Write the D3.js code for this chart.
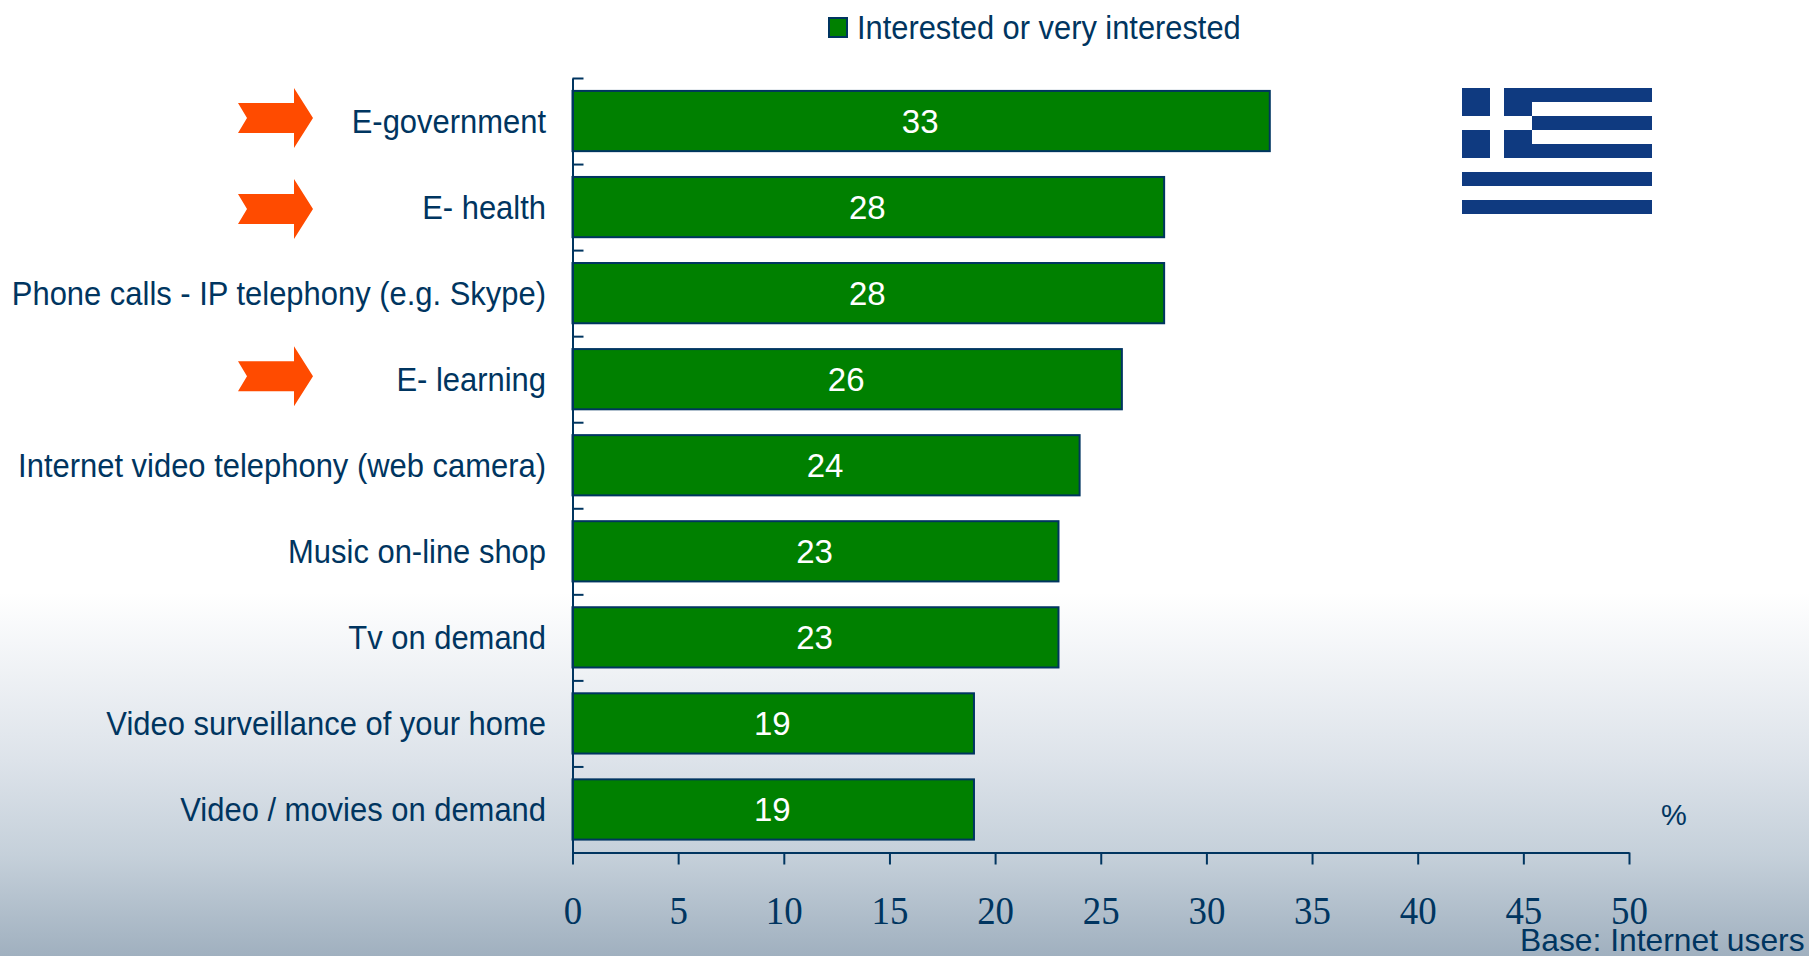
<!DOCTYPE html>
<html>
<head>
<meta charset="utf-8">
<style>
  html, body { margin: 0; padding: 0; background: #fff; overflow: hidden; }
  svg { display: block; }
  text { font-family: "Liberation Sans", Arial, sans-serif; fill: #003560; }
</style>
<script src="https://d3js.org/d3.v7.min.js"></script>
</head>
<body>
<svg id="chart"></svg>
<script>
const categories = [
  "E-government",
  "E- health",
  "Phone calls - IP telephony (e.g. Skype)",
  "E- learning",
  "Internet video telephony (web camera)",
  "Music on-line shop",
  "Tv on demand",
  "Video surveillance of your home",
  "Video / movies on demand"
];
const values = [33, 28, 28, 26, 24, 23, 23, 19, 19];
const highlighted = ["E-government", "E- health", "E- learning"];
const xTicks = [0, 5, 10, 15, 20, 25, 30, 35, 40, 45, 50];
const legendLabel = "Interested or very interested";
const unitLabel = "%";
const baseLabel = "Base: Internet users";

const navy = "#003560";
const green = "#008000";
const width = 1809, height = 956;
const plotLeft = 572.5, plotRight = 1629, plotTop = 78, plotBottom = 852.5;

const svg = d3.select("#chart").attr("width", width).attr("height", height);

// background fades to grey blue at the bottom
const grad = svg.append("defs").append("linearGradient")
  .attr("id", "bg").attr("x1", 0).attr("y1", 0).attr("x2", 0).attr("y2", 1);
grad.selectAll("stop")
  .data([[0, "#ffffff"], [0.62, "#ffffff"], [0.795, "#dde3ea"], [0.895, "#c5d0da"], [1, "#a0b0bf"]])
  .join("stop")
  .attr("offset", d => d[0])
  .attr("stop-color", d => d[1]);
svg.append("rect").attr("width", width).attr("height", height).attr("fill", "url(#bg)");

const x = d3.scaleLinear().domain([0, 50]).range([plotLeft, plotRight]);
const y = d3.scaleBand().domain(categories).range([plotTop, plotBottom]).paddingInner(0.3).paddingOuter(0.15);
const yEdges = d3.scaleLinear().domain([0, categories.length]).range([plotTop, plotBottom]);

// squeezed text, the original is narrower than Liberation Sans
function squeeze(sel, px, py, size, sx, anchor) {
  sel.attr("transform", `translate(${px},${py}) scale(${sx},1)`)
    .attr("font-size", size)
    .attr("text-anchor", anchor);
}

// bars
svg.append("g")
  .selectAll("rect")
  .data(categories)
  .join("rect")
  .attr("x", x(0))
  .attr("y", d => y(d))
  .attr("width", (d, i) => x(values[i]) - x(0))
  .attr("height", y.bandwidth())
  .attr("fill", green)
  .attr("stroke", navy)
  .attr("stroke-width", 2);

// value labels
svg.append("g")
  .selectAll("text")
  .data(categories)
  .join("text")
  .attr("x", (d, i) => (x(0) + x(values[i])) / 2 - 1)
  .attr("y", d => y(d) + y.bandwidth() / 2 + 11.5)
  .attr("text-anchor", "middle")
  .attr("font-size", 33)
  .style("fill", "#fff")
  .text((d, i) => values[i]);

// category labels
svg.append("g")
  .selectAll("text")
  .data(categories)
  .join("text")
  .each(function(d) {
    squeeze(d3.select(this), 546, y(d) + y.bandwidth() / 2 + 12, 34, 0.91, "end");
  })
  .text(d => d);

// axes
const xAxis = svg.append("g")
  .attr("transform", `translate(0,${plotBottom})`)
  .call(d3.axisBottom(x).tickValues(xTicks).tickSize(12).tickPadding(30).tickSizeOuter(0));
xAxis.selectAll("text")
  .attr("font-size", 41)
  .attr("transform", "scale(0.9,1)")
  .style("font-family", "'Liberation Serif', 'Times New Roman', serif")
  .style("fill", navy);

const yAxis = svg.append("g")
  .attr("transform", `translate(${plotLeft},0)`)
  .call(d3.axisRight(yEdges).tickValues(d3.range(categories.length + 1)).tickSize(11).tickSizeOuter(0).tickFormat(""));

svg.selectAll(".domain, .tick line").attr("stroke", navy).attr("stroke-width", 2);

// arrows for the highlighted services
const arrowShape = [[-37.5, -15], [18.5, -15], [18.5, -30], [37.5, 0], [18.5, 30], [18.5, 15], [-37.5, 15], [-28.5, 0]];
svg.append("g")
  .selectAll("polygon")
  .data(highlighted)
  .join("polygon")
  .attr("points", arrowShape.join(" "))
  .attr("transform", d => `translate(275.5,${y(d) + y.bandwidth() / 2 + (d === "E- health" ? 2 : -3)})`)
  .attr("fill", "#ff4b00");

// flag
const flagBlue = "#0f3a80";
const flag = svg.append("g").attr("transform", "translate(1462,88)");
const stripe = d3.scaleLinear().domain([0, 9]).range([0, 126]);
flag.append("rect").attr("width", 190).attr("height", 126).attr("fill", "#fff");
flag.selectAll("rect.stripe")
  .data([0, 2, 4, 6, 8])
  .join("rect")
  .attr("class", "stripe")
  .attr("y", d => stripe(d))
  .attr("width", 190)
  .attr("height", stripe(1))
  .attr("fill", flagBlue);
flag.append("rect").attr("width", 70).attr("height", stripe(5)).attr("fill", flagBlue);
flag.append("rect").attr("x", 28).attr("width", 14).attr("height", stripe(5)).attr("fill", "#fff");
flag.append("rect").attr("y", stripe(2)).attr("width", 70).attr("height", stripe(1)).attr("fill", "#fff");

// legend
svg.append("rect")
  .attr("x", 829).attr("y", 18)
  .attr("width", 18).attr("height", 19)
  .attr("fill", green).attr("stroke", navy).attr("stroke-width", 2);
svg.append("text")
  .call(squeeze, 857, 39, 34, 0.907, "start")
  .text(legendLabel);

svg.append("text")
  .call(squeeze, 1661, 825, 29, 1, "start")
  .text(unitLabel);

svg.append("text")
  .call(squeeze, 1520, 951, 31.8, 1, "start")
  .text(baseLabel);
</script>
</body>
</html>
